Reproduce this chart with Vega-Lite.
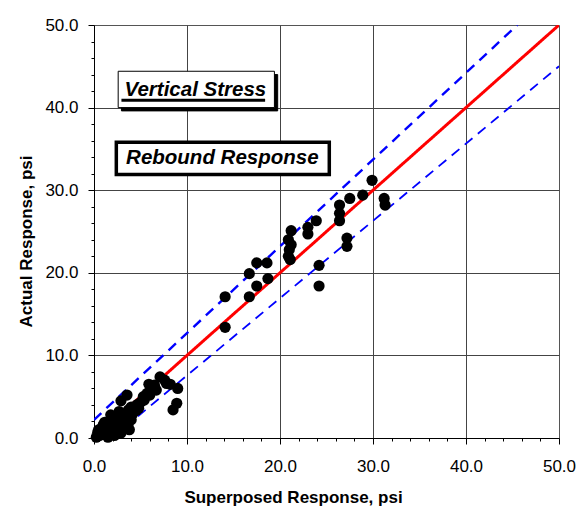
{
  "$schema": "https://vega.github.io/schema/vega-lite/v6.json",
  "width": 465,
  "height": 413,
  "autosize": {"type": "none"},
  "padding": {"left": 94, "top": 25, "right": 24, "bottom": 77},
  "background": "white",
  "config": {
    "font": "Liberation Sans",
    "view": {"stroke": "#555", "strokeWidth": 1},
    "axis": {
      "labelFont": "Liberation Sans",
      "titleFont": "Liberation Sans",
      "labelFontSize": 17,
      "labelColor": "black",
      "titleFontSize": 17,
      "titleFontWeight": "bold",
      "titleColor": "black",
      "domainColor": "black",
      "domainWidth": 1,
      "tickColor": "black",
      "labelOverlap": false,
      "labelFlush": false
    }
  },
  "datasets": {
    "points": [
      {"sup": 29.9, "act": 31.2}, {"sup": 28.9, "act": 29.4}, {"sup": 27.5, "act": 29.0}, {"sup": 26.4, "act": 28.2},
      {"sup": 26.4, "act": 27.2}, {"sup": 26.4, "act": 26.3}, {"sup": 31.2, "act": 29.0}, {"sup": 31.3, "act": 28.2},
      {"sup": 27.2, "act": 24.2}, {"sup": 27.2, "act": 23.2}, {"sup": 23.9, "act": 26.3}, {"sup": 23.0, "act": 25.5},
      {"sup": 23.0, "act": 24.7}, {"sup": 21.2, "act": 25.1}, {"sup": 20.9, "act": 24.0}, {"sup": 21.2, "act": 23.4},
      {"sup": 21.0, "act": 22.8}, {"sup": 20.9, "act": 22.0}, {"sup": 21.1, "act": 21.6}, {"sup": 24.2, "act": 20.9},
      {"sup": 24.2, "act": 18.4}, {"sup": 18.6, "act": 21.2}, {"sup": 17.5, "act": 21.2}, {"sup": 16.7, "act": 19.9},
      {"sup": 18.7, "act": 19.3}, {"sup": 17.5, "act": 18.4}, {"sup": 16.7, "act": 17.1}, {"sup": 14.1, "act": 17.1},
      {"sup": 14.1, "act": 13.4},
      {"sup": 7.1, "act": 7.4}, {"sup": 5.9, "act": 6.5}, {"sup": 8.2, "act": 6.5}, {"sup": 9.0, "act": 6.0},
      {"sup": 8.9, "act": 4.2}, {"sup": 8.5, "act": 3.4}, {"sup": 3.55, "act": 5.2}, {"sup": 2.9, "act": 4.5},
      {"sup": 5.7, "act": 5.4}, {"sup": 6.7, "act": 5.8}, {"sup": 5.1, "act": 4.4}, {"sup": 4.6, "act": 4.0},
      {"sup": 3.7, "act": 3.4}, {"sup": 2.9, "act": 2.75}, {"sup": 2.2, "act": 2.5}, {"sup": 3.1, "act": 1.75},
      {"sup": 2.4, "act": 1.3}, {"sup": 1.7, "act": 1.75}, {"sup": 1.3, "act": 1.1}, {"sup": 1.0, "act": 0.7},
      {"sup": 0.6, "act": 0.3}, {"sup": 1.7, "act": 0.5}, {"sup": 2.6, "act": 0.7}, {"sup": 1.15, "act": 1.9},
      {"sup": 1.9, "act": 2.35}, {"sup": 6.2, "act": 6.0}, {"sup": 5.3, "act": 5.0}, {"sup": 4.0, "act": 3.75},
      {"sup": 3.3, "act": 2.35}, {"sup": 3.65, "act": 1.5}, {"sup": 0.9, "act": 1.3}, {"sup": 0.4, "act": 0.7},
      {"sup": 2.05, "act": 1.1}, {"sup": 1.5, "act": 0.1}, {"sup": 0.25, "act": 0.1}, {"sup": 2.8, "act": 2.1},
      {"sup": 4.55, "act": 3.35},
      {"sup": 1.2, "act": 0.4}, {"sup": 2.0, "act": 1.6}, {"sup": 2.5, "act": 2.0}, {"sup": 3.0, "act": 1.2},
      {"sup": 3.4, "act": 2.8}, {"sup": 4.2, "act": 3.0}, {"sup": 4.0, "act": 2.2}, {"sup": 1.5, "act": 1.5},
      {"sup": 0.8, "act": 0.9}, {"sup": 2.2, "act": 0.3}, {"sup": 2.9, "act": 0.6}, {"sup": 3.6, "act": 2.6},
      {"sup": 4.8, "act": 3.6}, {"sup": 5.4, "act": 4.6}, {"sup": 6.0, "act": 5.2}, {"sup": 6.5, "act": 6.4},
      {"sup": 7.6, "act": 7.0}, {"sup": 7.8, "act": 6.6}, {"sup": 2.7, "act": 3.2}, {"sup": 4.9, "act": 4.2},
      {"sup": 1.0, "act": 1.6}, {"sup": 0.5, "act": 1.0}, {"sup": 3.8, "act": 1.0}, {"sup": 1.8, "act": 2.8}
    ],
    "lines": [
      {"line": "equality", "sup": 0, "act": 0}, {"line": "equality", "sup": 50, "act": 50},
      {"line": "upper", "sup": 0, "act": 2.2}, {"line": "upper", "sup": 45.52, "act": 50},
      {"line": "lower", "sup": 1.91, "act": 0}, {"line": "lower", "sup": 50, "act": 45.0}
    ],
    "boxes": [
      {"name": "vs_shadow", "x1": 2.95, "x2": 19.75, "y1": 39.6, "y2": 44.0},
      {"name": "vs", "x1": 2.6, "x2": 19.4, "y1": 40.0, "y2": 44.4}
    ],
    "labels": [
      {"text": "Vertical Stress", "x": 10.9, "y": 42.1},
      {"text": "Rebound Response", "x": 13.8, "y": 33.85}
    ]
  },
  "encoding": {
    "x": {
      "type": "quantitative",
      "scale": {"domain": [0, 50], "nice": false, "zero": false},
      "axis": {
        "title": "Superposed Response, psi",
        "values": [0,2,4,6,8,10,12,14,16,18,20,22,24,26,28,30,32,34,36,38,40,42,44,46,48,50],
        "labelExpr": "datum.value % 10 === 0 ? format(datum.value, '.1f') : ''",
        "grid": true,
        "gridColor": "#444",
        "gridOpacity": {"condition": {"test": "datum.value % 10 === 0 && datum.value > 0 && datum.value < 50", "value": 1}, "value": 0},
        "tickSize": {"condition": {"test": "datum.value % 10 === 0", "value": 6}, "value": 3},
        "labelPadding": 14,
        "titleX": 199,
        "titleY": 59,
        "titleAnchor": null,
        "titleAlign": "center",
        "titleBaseline": "middle"
      }
    },
    "y": {
      "type": "quantitative",
      "scale": {"domain": [0, 50], "nice": false, "zero": false},
      "axis": {
        "title": "Actual Response, psi",
        "values": [0,2,4,6,8,10,12,14,16,18,20,22,24,26,28,30,32,34,36,38,40,42,44,46,48,50],
        "labelExpr": "datum.value % 10 === 0 ? format(datum.value, '.1f') : ''",
        "grid": true,
        "gridColor": "#444",
        "gridOpacity": {"condition": {"test": "datum.value % 10 === 0 && datum.value > 0 && datum.value < 50", "value": 1}, "value": 0},
        "tickSize": {"condition": {"test": "datum.value % 10 === 0", "value": 6}, "value": 3},
        "labelPadding": 10,
        "titleX": -68,
        "titleY": 216,
        "titleAnchor": null,
        "titleAlign": "center",
        "titleBaseline": "middle",
        "titleAngle": -90
      }
    }
  },
  "layer": [
    {
      "data": {"name": "boxes"},
      "mark": {"type": "rect"},
      "encoding": {
        "x": {"field": "x1"}, "x2": {"field": "x2"},
        "y": {"field": "y1"}, "y2": {"field": "y2"},
        "fill": {"field": "name", "type": "nominal", "scale": {"domain": ["vs_shadow", "vs"], "range": ["black", "white"]}, "legend": null},
        "stroke": {"value": "black"},
        "strokeWidth": {"value": 1}
      }
    },
    {
      "data": {"values": [{"x1": 2.4, "x2": 25.3, "y1": 31.9, "y2": 35.8}]},
      "mark": {"type": "rect", "fill": "white", "stroke": "black", "strokeWidth": 3.5},
      "encoding": {
        "x": {"field": "x1"}, "x2": {"field": "x2"},
        "y": {"field": "y1"}, "y2": {"field": "y2"}
      }
    },
    {
      "data": {"values": [{"x1": 2.95, "x2": 18.4, "y": 40.9}]},
      "mark": {"type": "rule", "color": "black", "strokeWidth": 3},
      "encoding": {
        "x": {"field": "x1"}, "x2": {"field": "x2"},
        "y": {"field": "y"}
      }
    },
    {
      "data": {"name": "labels"},
      "mark": {"type": "text", "font": "Liberation Sans", "fontSize": 20.5, "fontWeight": "bold", "fontStyle": "italic", "align": "center", "baseline": "middle", "color": "black"},
      "encoding": {
        "x": {"field": "x"},
        "y": {"field": "y"},
        "text": {"field": "text"}
      }
    },
    {
      "data": {"name": "lines"},
      "mark": {"type": "line", "clip": true},
      "encoding": {
        "x": {"field": "sup"},
        "y": {"field": "act"},
        "detail": {"field": "line"},
        "color": {"field": "line", "type": "nominal", "scale": {"domain": ["equality", "upper", "lower"], "range": ["#ff0000", "#0000ff", "#0000ff"]}, "legend": null},
        "strokeWidth": {"field": "line", "type": "nominal", "scale": {"domain": ["equality", "upper", "lower"], "range": [3, 1.8, 1.8]}, "legend": null},
        "strokeDash": {"field": "line", "type": "nominal", "scale": {"domain": ["equality", "upper", "lower"], "range": [[1, 0], [10, 7], [10, 7]]}, "legend": null}
      }
    },
    {
      "data": {"name": "points"},
      "mark": {"type": "circle", "size": 125, "color": "black", "opacity": 1},
      "encoding": {
        "x": {"field": "sup"},
        "y": {"field": "act"}
      }
    }
  ]
}
